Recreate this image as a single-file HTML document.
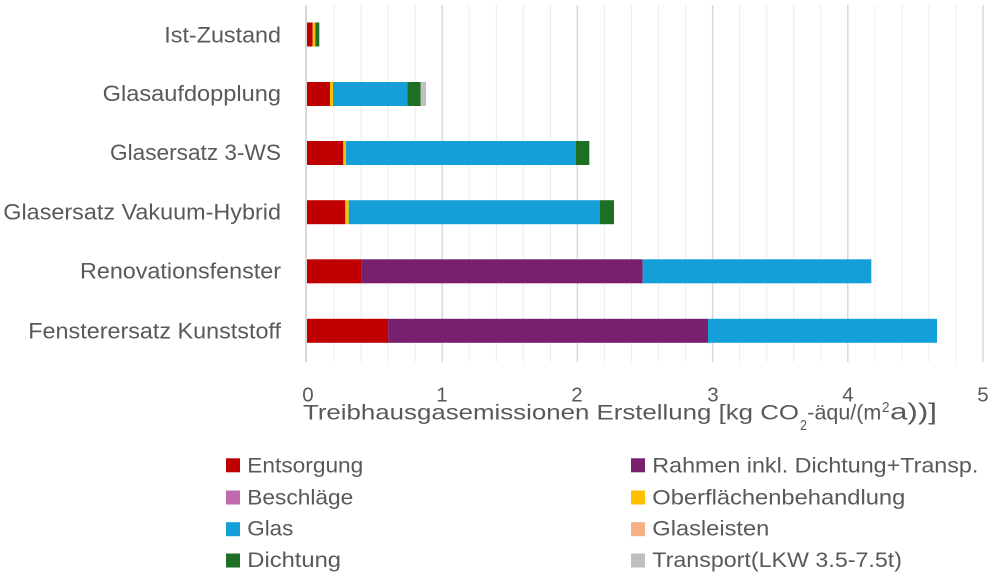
<!DOCTYPE html>
<html><head><meta charset="utf-8"><style>
html,body{margin:0;padding:0;background:#fff;}
svg{display:block;}
text{font-family:"Liberation Sans",Arial,sans-serif;fill:#595959;}
</style></head><body>
<svg width="1000" height="577" viewBox="0 0 1000 577" xmlns="http://www.w3.org/2000/svg">
<rect x="0" y="0" width="1000" height="577" fill="#fff"/>
<g stroke="#ececec" stroke-width="1">
<line x1="334" y1="5" x2="334" y2="362"/><line x1="361.1" y1="5" x2="361.1" y2="362"/><line x1="388.1" y1="5" x2="388.1" y2="362"/><line x1="415.2" y1="5" x2="415.2" y2="362"/>
<line x1="469.2" y1="5" x2="469.2" y2="362"/><line x1="496.3" y1="5" x2="496.3" y2="362"/><line x1="523.3" y1="5" x2="523.3" y2="362"/><line x1="550.4" y1="5" x2="550.4" y2="362"/>
<line x1="604.4" y1="5" x2="604.4" y2="362"/><line x1="631.5" y1="5" x2="631.5" y2="362"/><line x1="658.5" y1="5" x2="658.5" y2="362"/><line x1="685.6" y1="5" x2="685.6" y2="362"/>
<line x1="739.6" y1="5" x2="739.6" y2="362"/><line x1="766.7" y1="5" x2="766.7" y2="362"/><line x1="793.7" y1="5" x2="793.7" y2="362"/><line x1="820.8" y1="5" x2="820.8" y2="362"/>
<line x1="874.8" y1="5" x2="874.8" y2="362"/><line x1="901.9" y1="5" x2="901.9" y2="362"/><line x1="928.9" y1="5" x2="928.9" y2="362"/><line x1="956" y1="5" x2="956" y2="362"/>
</g>
<g stroke="#d6d6d6" stroke-width="1.4">
<line x1="442.2" y1="5" x2="442.2" y2="362"/><line x1="577.4" y1="5" x2="577.4" y2="362"/><line x1="712.6" y1="5" x2="712.6" y2="362"/><line x1="847.8" y1="5" x2="847.8" y2="362"/><line x1="983" y1="5" x2="983" y2="362"/>
</g>
<line x1="306" y1="5" x2="306" y2="362" stroke="#c8c8c8" stroke-width="1.4"/>

<!-- Ist-Zustand -->
<rect x="307" y="22.5" width="5.7" height="24" fill="#C00000"/>
<rect x="312.7" y="22.5" width="2.6" height="24" fill="#FFC000"/>
<rect x="315.3" y="22.5" width="4" height="24" fill="#1E6E23"/>
<!-- Glasaufdopplung -->
<rect x="307" y="82" width="23" height="24" fill="#C00000"/>
<rect x="330" y="82" width="3" height="24" fill="#FFC000"/>
<rect x="333" y="82" width="74.3" height="24" fill="#149FD8"/>
<rect x="407.3" y="82" width="13.4" height="24" fill="#1E6E23"/>
<rect x="420.7" y="82" width="5.3" height="24" fill="#BFBFBF"/>
<!-- Glasersatz 3-WS -->
<rect x="307" y="141" width="36.3" height="24" fill="#C00000"/>
<rect x="343.3" y="141" width="2.7" height="24" fill="#FFC000"/>
<rect x="346" y="141" width="229.7" height="24" fill="#149FD8"/>
<rect x="575.7" y="141" width="13.6" height="24" fill="#1E6E23"/>
<!-- Vakuum -->
<rect x="307" y="200.2" width="38.3" height="24" fill="#C00000"/>
<rect x="345.3" y="200.2" width="3.4" height="24" fill="#FFC000"/>
<rect x="348.7" y="200.2" width="251.3" height="24" fill="#149FD8"/>
<rect x="600" y="200.2" width="14" height="24" fill="#1E6E23"/>
<!-- Renovationsfenster -->
<rect x="307" y="259.3" width="54.7" height="24" fill="#C00000"/>
<rect x="361.7" y="259.3" width="281" height="24" fill="#78206E"/>
<rect x="642.7" y="259.3" width="228.6" height="24" fill="#149FD8"/>
<!-- Kunststoff -->
<rect x="307" y="318.8" width="81.3" height="24" fill="#C00000"/>
<rect x="388.3" y="318.8" width="319.7" height="24" fill="#78206E"/>
<rect x="708" y="318.8" width="229" height="24" fill="#149FD8"/>

<!-- Category labels -->
<g font-size="22">
<text x="164.3" y="42.3" textLength="116.7" lengthAdjust="spacingAndGlyphs">Ist-Zustand</text>
<text x="102.7" y="101" textLength="178.3" lengthAdjust="spacingAndGlyphs">Glasaufdopplung</text>
<text x="110" y="160" textLength="171" lengthAdjust="spacingAndGlyphs">Glasersatz 3-WS</text>
<text x="3.3" y="219.3" textLength="277.7" lengthAdjust="spacingAndGlyphs">Glasersatz Vakuum-Hybrid</text>
<text x="80" y="278.7" textLength="201" lengthAdjust="spacingAndGlyphs">Renovationsfenster</text>
<text x="28.3" y="338.3" textLength="252.7" lengthAdjust="spacingAndGlyphs">Fensterersatz Kunststoff</text>
</g>

<!-- Tick labels -->
<g font-size="20.5" text-anchor="middle">
<text x="308" y="401.7">0</text>
<text x="442" y="401.7">1</text>
<text x="577" y="401.7">2</text>
<text x="713" y="401.7">3</text>
<text x="848" y="401.7">4</text>
<text x="983" y="401.7">5</text>
</g>

<!-- Axis title -->
<text x="303" y="419.3" font-size="21.5" textLength="496" lengthAdjust="spacingAndGlyphs">Treibhausgasemissionen Erstellung [kg CO</text>
<text x="800" y="430" font-size="15" textLength="7" lengthAdjust="spacingAndGlyphs">2</text>
<text x="807.3" y="419.3" font-size="21.5" textLength="74" lengthAdjust="spacingAndGlyphs">-äqu/(m</text>
<text x="882" y="412" font-size="15" textLength="7.5" lengthAdjust="spacingAndGlyphs">2</text>
<text x="890" y="419.3" font-size="23" textLength="47" lengthAdjust="spacingAndGlyphs">a))]</text>

<!-- Legend -->
<rect x="226" y="458.3" width="14" height="14" fill="#C00000"/>
<rect x="226" y="490.5" width="14" height="14" fill="#C06AB0"/>
<rect x="226" y="522.2" width="14" height="14" fill="#149FD8"/>
<rect x="226" y="553.5" width="14" height="14" fill="#1E6E23"/>
<rect x="631" y="458.3" width="14" height="14" fill="#78206E"/>
<rect x="631" y="490.5" width="14" height="14" fill="#FFC000"/>
<rect x="631" y="522.2" width="14" height="14" fill="#F4B183"/>
<rect x="631" y="553.5" width="14" height="14" fill="#BFBFBF"/>
<g font-size="21">
<text x="247.3" y="472.3" textLength="116" lengthAdjust="spacingAndGlyphs">Entsorgung</text>
<text x="247.3" y="504.3" textLength="106" lengthAdjust="spacingAndGlyphs">Beschläge</text>
<text x="247.3" y="535.7" textLength="46" lengthAdjust="spacingAndGlyphs">Glas</text>
<text x="247.3" y="567" textLength="93.7" lengthAdjust="spacingAndGlyphs">Dichtung</text>
<text x="652.3" y="472.3" textLength="326" lengthAdjust="spacingAndGlyphs">Rahmen inkl. Dichtung+Transp.</text>
<text x="652.3" y="504.3" textLength="253" lengthAdjust="spacingAndGlyphs">Oberflächenbehandlung</text>
<text x="652.3" y="535.7" textLength="117" lengthAdjust="spacingAndGlyphs">Glasleisten</text>
<text x="652.3" y="567" textLength="249.7" lengthAdjust="spacingAndGlyphs">Transport(LKW 3.5-7.5t)</text>
</g>
</svg>
</body></html>
